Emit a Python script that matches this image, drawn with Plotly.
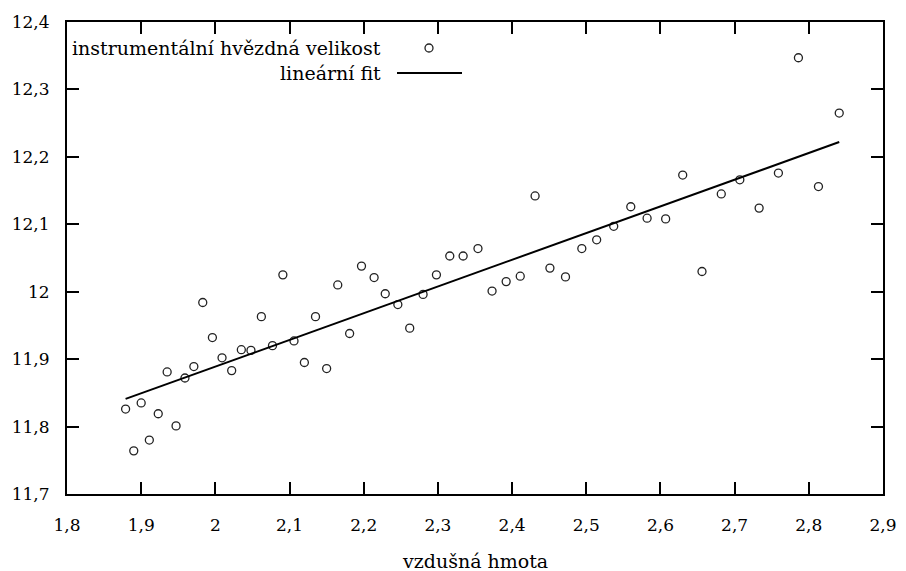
import plotly.graph_objects as go

# measured data: air mass vs instrumental magnitude
vzdusna_hmota = [1.879, 1.890, 1.900, 1.911, 1.923, 1.935, 1.947, 1.959, 1.971, 1.983,
                 1.996, 2.009, 2.022, 2.035, 2.048, 2.062, 2.077, 2.091, 2.106, 2.120,
                 2.135, 2.150, 2.165, 2.181, 2.197, 2.214, 2.229, 2.246, 2.262, 2.280,
                 2.298, 2.316, 2.334, 2.354, 2.373, 2.392, 2.411, 2.431, 2.451, 2.472,
                 2.494, 2.514, 2.537, 2.560, 2.582, 2.607, 2.630, 2.656, 2.682, 2.707,
                 2.733, 2.759, 2.786, 2.813, 2.841]
velikost = [11.826, 11.764, 11.835, 11.780, 11.819, 11.881, 11.801, 11.872, 11.889, 11.984,
            11.932, 11.902, 11.883, 11.914, 11.913, 11.963, 11.920, 12.025, 11.927, 11.895,
            11.963, 11.886, 12.010, 11.938, 12.038, 12.021, 11.997, 11.981, 11.946, 11.996,
            12.025, 12.053, 12.053, 12.064, 12.001, 12.015, 12.023, 12.142, 12.035, 12.022,
            12.064, 12.077, 12.097, 12.126, 12.109, 12.108, 12.173, 12.030, 12.145, 12.166,
            12.124, 12.176, 12.347, 12.156, 12.265]

# linear fit endpoints
fit_x = [1.879, 2.841]
fit_y = [11.841, 12.222]

legend_labels = ["instrumentální hvězdná velikost", "lineární fit"]
x_title = "vzdušná hmota"

FONT = "DejaVu Serif"
W, H = 906, 571
L, T = 67, 22
R = W - 883
B = H - 494
PW, PH = W - L - R, H - T - B


def px(xw):
    return (xw - L) / PW


def py(yw):
    return (H - B - yw) / PH


fig = go.Figure()
fig.add_trace(go.Scatter(
    x=vzdusna_hmota, y=velikost, mode="markers",
    marker=dict(symbol="circle-open", size=8, color="#222222", line=dict(width=1.3)),
    showlegend=False, name=legend_labels[0], hoverinfo="skip"))
fig.add_trace(go.Scatter(
    x=fit_x, y=fit_y, mode="lines",
    line=dict(color="black", width=2), showlegend=False, name=legend_labels[1],
    hoverinfo="skip"))

axis_common = dict(
    showline=True, linecolor="black", linewidth=2, mirror="allticks",
    ticks="inside", ticklen=12, tickwidth=2, tickcolor="black",
    showgrid=False, zeroline=False, automargin=False,
    tickfont=dict(family=FONT, size=17, color="black"),
)

fig.update_xaxes(range=[1.8, 2.9], tick0=1.8, dtick=0.1, ticklabelstandoff=15,
                 **axis_common)
fig.update_yaxes(range=[11.7, 12.4], tick0=11.7, dtick=0.1, ticklabelstandoff=12,
                 **axis_common)

annotations = [
    dict(x=px(383), y=py(48), xref="paper", yref="paper", text=legend_labels[0],
         showarrow=False, xanchor="right", yanchor="middle",
         font=dict(family=FONT, size=19, color="black")),
    dict(x=px(383), y=py(73), xref="paper", yref="paper", text=legend_labels[1],
         showarrow=False, xanchor="right", yanchor="middle",
         font=dict(family=FONT, size=19, color="black")),
    dict(x=px(475), y=py(561), xref="paper", yref="paper", text=x_title,
         showarrow=False, xanchor="center", yanchor="middle",
         font=dict(family=FONT, size=19, color="black")),
]
shapes = [
    dict(type="circle", xref="paper", yref="paper", xsizemode="pixel", ysizemode="pixel",
         xanchor=px(429), yanchor=py(48), x0=-4, x1=4, y0=-4, y1=4,
         line=dict(color="#222222", width=1.3)),
    dict(type="line", xref="paper", yref="paper", x0=px(397), x1=px(462), y0=py(73), y1=py(73),
         line=dict(color="black", width=2)),
]

fig.update_layout(
    width=W, height=H, margin=dict(l=L, r=R, t=T, b=B, autoexpand=False),
    paper_bgcolor="white", plot_bgcolor="white",
    separators=", ",
    annotations=annotations, shapes=shapes,
    font=dict(family=FONT, color="black"),
    hovermode=False,
)

fig.write_html(
    "out.html",
    config={"displayModeBar": False, "staticPlot": True},
    post_script="document.body.style.margin='0';document.body.style.padding='0';"
                "document.body.style.overflow='hidden';",
)
